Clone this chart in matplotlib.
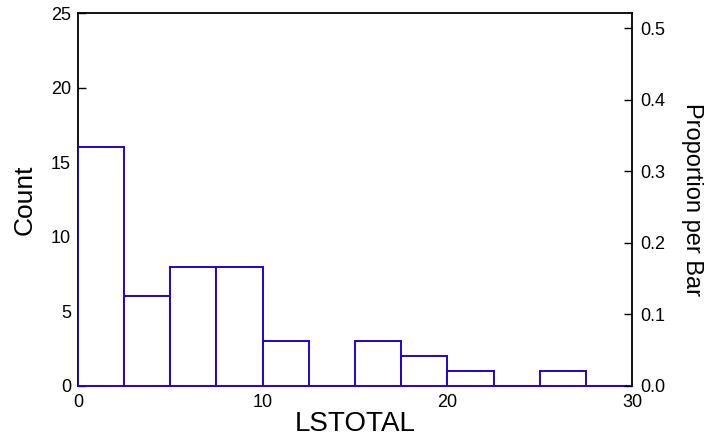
import numpy as np
import matplotlib
matplotlib.use("Agg")
import matplotlib.pyplot as plt

# histogram data
bin_edges = [0, 2.5, 5, 7.5, 10, 12.5, 15, 17.5, 20, 22.5, 25, 27.5, 30]
counts = [16, 6, 8, 8, 3, 0, 3, 2, 1, 0, 1, 0]
x_ticks = [0, 10, 20, 30]
y_ticks = [0, 5, 10, 15, 20, 25]
p_ticks = [0.0, 0.1, 0.2, 0.3, 0.4, 0.5]

plt.rcParams['font.family'] = ['Liberation Sans', 'DejaVu Sans']

total = sum(counts)
blue = '#2200dd'

fig = plt.figure(figsize=(7.08, 4.4), dpi=100)
ax = fig.add_axes([0.110, 0.123, 0.783, 0.847])

edges = np.array(bin_edges)
ax.bar(edges[:-1], counts, width=np.diff(edges), align='edge',
       facecolor='white', edgecolor=blue, linewidth=1.4, zorder=3)

ax.set_xlim(0, 30)
ax.set_ylim(0, 25)
ax.set_xticks(x_ticks)
ax.set_yticks(y_ticks)
ax.tick_params(axis='y', direction='in', length=6, width=1, labelsize=13, pad=5)
ax.tick_params(axis='x', length=0, labelsize=13, pad=6)
for s in ['left', 'top', 'right']:
    ax.spines[s].set_linewidth(1.3)
ax.spines['bottom'].set_color(blue)
ax.spines['bottom'].set_linewidth(1.4)
ax.set_ylabel("Count", fontsize=19, labelpad=10)
ax.set_xlabel("LSTOTAL", fontsize=20, labelpad=0)

ax2 = ax.twinx()
ax2.set_ylim(0, 25 / total)
ax2.set_yticks(p_ticks)
ax2.set_yticklabels([f"{t:.1f}" for t in p_ticks])
ax2.tick_params(axis='y', direction='in', length=6, width=1, labelsize=13, pad=6)
for s in ax2.spines.values():
    s.set_visible(False)
ax2.set_ylabel("Proportion per Bar", fontsize=17, rotation=-90, labelpad=27)

fig.savefig("out.png", dpi=100)
